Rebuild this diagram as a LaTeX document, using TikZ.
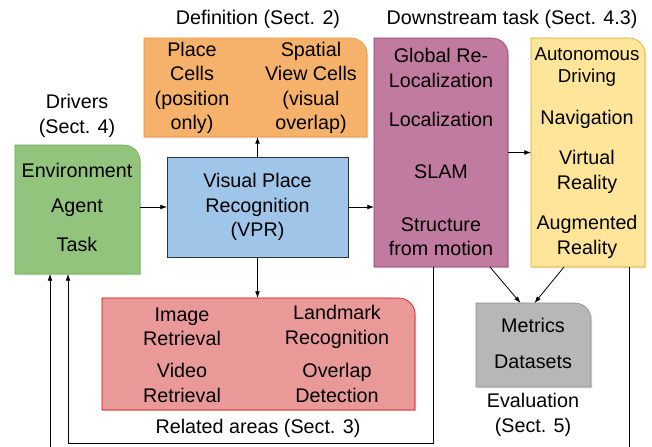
\documentclass[tikz,border=0pt]{standalone}
\usepackage{fontspec}
\setmainfont{Liberation Sans}
\usetikzlibrary{arrows.meta,calc,backgrounds,shadows}

\definecolor{greenfill}{HTML}{93C47D}
\definecolor{greenline}{HTML}{6AA84F}
\definecolor{bluefill}{HTML}{9FC5E8}
\definecolor{orangefill}{HTML}{F6B26B}
\definecolor{orangeline}{HTML}{E69138}
\definecolor{purplefill}{HTML}{C27BA0}
\definecolor{purpleline}{HTML}{8E3B68}
\definecolor{yellowfill}{HTML}{FFE599}
\definecolor{yellowline}{HTML}{D9A923}
\definecolor{redfill}{HTML}{EA9999}
\definecolor{redline}{HTML}{CC0000}
\definecolor{grayfill}{HTML}{B7B7B7}
\definecolor{grayline}{HTML}{8A8A8A}

\tikzset{
  every node/.style={font=\fontsize{14.8}{18.3}\selectfont, align=center, inner sep=0pt},
  panel/.style 2 args={outer sep=0pt, minimum width=#1*0.75pt, minimum height=#2*0.75pt},
  shade/.style={drop shadow={opacity=0.2, shadow xshift=1pt, shadow yshift=-1pt}},
  greentab/.style={fill=greenfill, draw=greenline, shade},
  orangetab/.style={fill=orangefill, draw=orangeline, shade},
  purpletab/.style={fill=purplefill, draw=purpleline, shade},
  yellowtab/.style={fill=yellowfill, draw=yellowline, shade},
  redtab/.style={fill=redfill, draw=redline, shade},
  graytab/.style={fill=grayfill, draw=grayline, shade},
  conn/.style={-{Latex[length=5pt,width=3.6pt]}, line width=0.6pt}
}

\begin{document}
\begin{tikzpicture}[x=0.75pt,y=-0.75pt]
  \useasboundingbox (0,0) rectangle (652,446);
  % boxes
  \node[panel={125}{129}] (drivers) at (77.5,209.5) {};
  \node[panel={181}{100}, fill=bluefill, draw=black!80, line width=0.6pt, shade] (vpr) at (257.5,207) {Visual Place\\Recognition\\(VPR)};
  \node[panel={223}{99}] (defn) at (255.5,87.5) {};
  \node[panel={134}{229}] (downstream) at (441,152.5) {};
  \node[panel={114}{229}] (apps) at (588,152.5) {};
  \node[panel={313}{112}] (related) at (258.5,354) {};
  \node[panel={115}{84}] (evaluation) at (533.5,345) {};
  % labels
  \node (defnlabel) at (258,19) {Definition (Sect. 2)};
  \node (downlabel) at (512,19) {Downstream task (Sect. 4.3)};
  \node (driverslabel) at (77,116) {Drivers\\(Sect. 4)};
  \node (relatedlabel) at (258,428) {Related areas (Sect. 3)};
  \node (evallabel) at (533,415) {Evaluation\\(Sect. 5)};
  % drivers
  \node (environment) at (77,170) {Environment};
  \node (agent) at (77,208) {Agent};
  \node (task) at (77,244) {Task};
  % definition
  \node (placecells) at (192,88) {Place\\Cells\\(position\\only)};
  \node (viewcells) at (311,88) {Spatial\\View Cells\\(visual\\overlap)};
  % downstream
  \node (globalreloc) at (441,68) {Global Re-\\Localization};
  \node (localization) at (441,119) {Localization};
  \node (slam) at (441,172) {SLAM};
  \node (sfm) at (441,237) {Structure\\from motion};
  % applications
  \node[font=\fontsize{14}{16.8}\selectfont] (driving) at (587,67) {Autonomous\\Driving};
  \node (navigation) at (587,119) {Navigation};
  \node (vr) at (587,172) {Virtual\\Reality};
  \node (ar) at (587,237) {Augmented\\Reality};
  % related areas
  \node (imgret) at (182,327) {Image\\Retrieval};
  \node (vidret) at (182,383) {Video\\Retrieval};
  \node (landmark) at (337,327) {Landmark\\Recognition};
  \node (overlap) at (337,383) {Overlap\\Detection};
  % evaluation
  \node (metrics) at (533,325) {Metrics};
  \node (datasets) at (533,362) {Datasets};
  \begin{scope}[on background layer]
    \foreach \b/\s in {drivers/greentab, defn/orangetab, downstream/purpletab, apps/yellowtab, related/redtab, evaluation/graytab}
      \draw[\s] (\b.south west) -- (\b.north west) -- ($(\b.north east)+(-16,0)$)
        arc[start angle=90, end angle=0, radius=12pt] -- (\b.south east) -- cycle;
  \end{scope}
  % connectors
  \draw[conn] (drivers.east |- vpr.west) -- (vpr.west);
  \draw[conn] (vpr.east) -- (vpr.east -| downstream.west);
  \draw[conn] (vpr.north) -- (vpr.north |- defn.south);
  \draw[conn] (vpr.south) -- (vpr.south |- related.north);
  \draw[conn] (downstream.east) -- (apps.west);
  \draw[conn] ($(downstream.south east)+(-18,0)$) -- ($(evaluation.north)+(-13,0)$);
  \draw[conn] ($(apps.south west)+(33,0)$) -- ($(evaluation.north)+(1,0)$);
  \draw[conn] ($(downstream.south west)+(59,0)$) -- ++(0,176) -| ($(drivers.south west)+(53,0)$);
  \draw[conn] ($(apps.south west)+(98,0)$) -- ++(0,190) -| ($(drivers.south west)+(35,0)$);
\end{tikzpicture}
\end{document}
